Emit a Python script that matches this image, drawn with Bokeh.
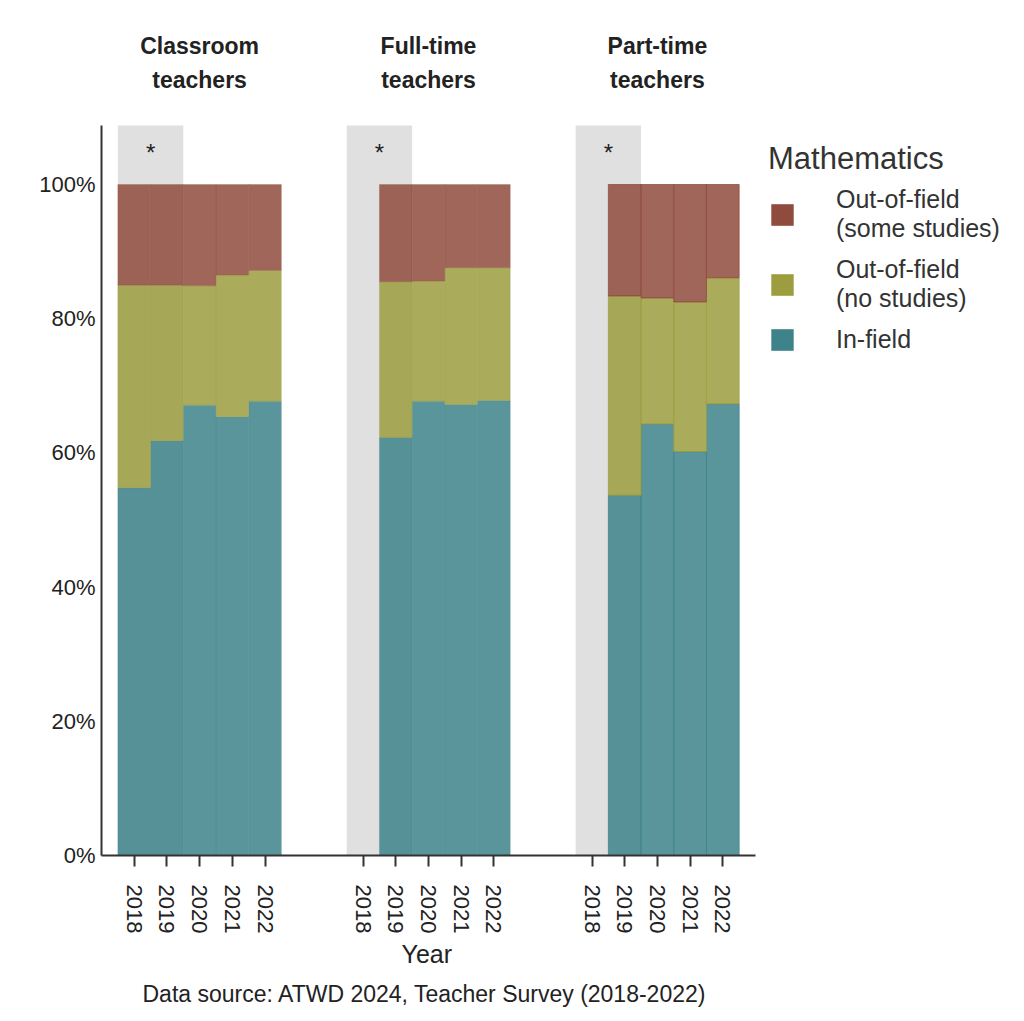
from bokeh.core.properties import value
from bokeh.embed import file_html
from bokeh.models import (BoxAnnotation, ColumnDataSource, FixedTicker, Legend,
                          LegendItem, Range1d, Title)
from bokeh.plotting import figure
from bokeh.resources import INLINE
import math

# ---- data -------------------------------------------------------------
group_titles = ["Classroom\nteachers", "Full-time\nteachers", "Part-time\nteachers"]
years = ["2018", "2019", "2020", "2021", "2022"]
flagged_years = ["2018", "2019"]          # shaded and marked with *

# share of mathematics teachers (%), None = no data for that year
in_field_classroom = [54.8, 61.8, 67.1, 65.4, 67.7]
in_field_fulltime = [None, 62.3, 67.7, 67.2, 67.8]
in_field_parttime = [None, 53.7, 64.3, 60.2, 67.3]

no_studies_classroom = [30.2, 23.2, 17.8, 21.1, 19.5]
no_studies_fulltime = [None, 23.2, 17.9, 20.4, 19.8]
no_studies_parttime = [None, 29.7, 18.8, 22.3, 18.8]

some_studies_classroom = [15.0, 15.0, 15.1, 13.5, 12.8]
some_studies_fulltime = [None, 14.5, 14.4, 12.4, 12.4]
some_studies_parttime = [None, 16.6, 16.9, 17.5, 13.9]

series_keys = ["in_field", "no_studies", "some_studies"]
series_labels = ["In-field", "Out-of-field\n(no studies)", "Out-of-field\n(some studies)"]
legend_title = "Mathematics"
x_title = "Year"
caption = "Data source: ATWD 2024, Teacher Survey (2018-2022)"
y_ticks = [0, 20, 40, 60, 80, 100]

# ---- styling / layout -------------------------------------------------
FONT = "Liberation Sans"
COLORS = ["#3d8389", "#9b9d3f", "#8f4b3d"]   # in-field, no studies, some studies
BAND = "#e0e0e0"
INK = "#222222"
AXIS = "#333333"
GAP = 2                 # empty slots between groups
W, H = 1024, 1021
LEFT, BOTTOM = 101, 166
PX_PER_SLOT = 32.7
PX_PER_PCT = 6.71
AXIS_TOP = 108.8        # upper end of the value axis (%)

groups = [
    (in_field_classroom, no_studies_classroom, some_studies_classroom),
    (in_field_fulltime, no_studies_fulltime, some_studies_fulltime),
    (in_field_parttime, no_studies_parttime, some_studies_parttime),
]
step = len(years) + GAP


def slot(g, i):
    return g * step + i


x_start = -1
x_axis_end = slot(len(groups) - 1, len(years) - 1) + 1
frame_w = W - LEFT
frame_h = H - BOTTOM

p = figure(
    width=W, height=H,
    x_range=Range1d(x_start, x_start + frame_w / PX_PER_SLOT),
    y_range=Range1d(0, frame_h / PX_PER_PCT),
    output_backend="svg", toolbar_location=None,
    min_border_left=LEFT, min_border_right=0,
    min_border_top=0, min_border_bottom=BOTTOM,
)
p.outline_line_color = None
p.xgrid.visible = False
p.ygrid.visible = False


def y_at_px(py):
    """value-axis position of a canvas row (pixels from the top)"""
    return (frame_h - py) / PX_PER_PCT


# shaded years behind each group
i0 = years.index(flagged_years[0])
i1 = years.index(flagged_years[-1])
for g in range(len(groups)):
    p.add_layout(BoxAnnotation(left=slot(g, i0) - 0.5, right=slot(g, i1) + 0.5,
                               bottom=0, top=AXIS_TOP,
                               fill_color=BAND, fill_alpha=1.0, line_color=None,
                               level="underlay"))

# stacked bars, one source per group
for g, (inf, nos, som) in enumerate(groups):
    rows = [i for i in range(len(years)) if inf[i] is not None]
    src = ColumnDataSource(dict(
        x=[slot(g, i) for i in rows],
        in_field=[inf[i] for i in rows],
        no_studies=[nos[i] for i in rows],
        some_studies=[som[i] for i in rows],
    ))
    edge_alpha = 0.75 if g == 2 else 0.25
    p.vbar_stack(series_keys, x="x", width=1.0, source=src,
                 fill_color=COLORS, fill_alpha=0.85,
                 line_color=COLORS, line_alpha=edge_alpha, line_width=1)

# asterisk over the shaded years
star_x = [(slot(g, i0) + slot(g, i1)) / 2 for g in range(len(groups))]
p.text(x=star_x, y=[y_at_px(152)] * len(star_x), text=["*"] * len(star_x),
       text_font=value(FONT), text_font_size="24px", text_color=INK,
       text_align="center", text_baseline="alphabetic")

# group headings
head_x = [(slot(g, 0) + slot(g, len(years) - 1)) / 2 for g in range(len(groups))]
p.text(x=head_x, y=[y_at_px(32)] * len(head_x), text=group_titles,
       text_font=value(FONT), text_font_size="23px", text_font_style="bold",
       text_color=INK, text_align="center", text_baseline="top",
       text_line_height=1.33)

# axes
xt = [slot(g, i) for g in range(len(groups)) for i in range(len(years))]
p.xaxis.bounds = (x_start, x_axis_end)
p.xaxis.ticker = FixedTicker(ticks=xt)
p.xaxis.major_label_overrides = {slot(g, i): years[i]
                                 for g in range(len(groups)) for i in range(len(years))}
p.xaxis.major_label_orientation = -math.pi / 2
p.xaxis.major_label_text_font = FONT
p.xaxis.major_label_text_font_size = "22px"
p.xaxis.major_label_text_color = INK
p.xaxis.major_label_standoff = 18
p.xaxis.major_tick_in = 0
p.xaxis.major_tick_out = 11
p.xaxis.major_tick_line_width = 2
p.xaxis.major_tick_line_color = AXIS
p.xaxis.minor_tick_line_color = None
p.xaxis.axis_line_width = 2
p.xaxis.axis_line_color = AXIS

p.yaxis.bounds = (0, AXIS_TOP)
p.yaxis.ticker = FixedTicker(ticks=y_ticks)
p.yaxis.major_label_overrides = {t: f"{t}%" for t in y_ticks}
p.yaxis.major_label_text_font = FONT
p.yaxis.major_label_text_font_size = "22px"
p.yaxis.major_label_text_color = INK
p.yaxis.major_label_standoff = 6
p.yaxis.major_tick_in = 0
p.yaxis.major_tick_out = 0
p.yaxis.minor_tick_line_color = None
p.yaxis.axis_line_width = 2
p.yaxis.axis_line_color = AXIS

# axis title and caption, centred under the bar groups
mid_px = LEFT + (x_axis_end - x_start) * PX_PER_SLOT / 2
p.add_layout(Title(text=x_title, align="left", offset=mid_px - LEFT - 27,
                   text_font=FONT, text_font_size="25px",
                   text_font_style="normal", text_color=INK, standoff=3), "below")
p.add_layout(Title(text=caption, align="left", offset=mid_px - LEFT - 286,
                   text_font=FONT, text_font_size="23px",
                   text_font_style="normal", text_color=INK, standoff=18), "below")

# legend with solid swatches
items = []
for key, label, color in zip(series_keys, series_labels, COLORS):
    r = p.vbar(x=[x_start], top=[float("nan")], width=1,
               fill_color=color, line_color=None)
    items.append(LegendItem(label=label, renderers=[r]))
legend = Legend(items=items[::-1], title=legend_title,
                location=(667, 855 - 140 - 240 + 37 - 11),
                margin=0, padding=0, spacing=12,
                title_text_font=FONT, title_text_font_size="31px",
                title_text_font_style="normal", title_text_color=AXIS,
                title_standoff=8,
                label_text_font=FONT, label_text_font_size="25px",
                label_text_color=AXIS, label_text_line_height=1.4,
                glyph_width=28, glyph_height=27, label_standoff=40,
                border_line_color=None, background_fill_alpha=0)
p.add_layout(legend)

open("out.html", "w").write(file_html(p, INLINE))
